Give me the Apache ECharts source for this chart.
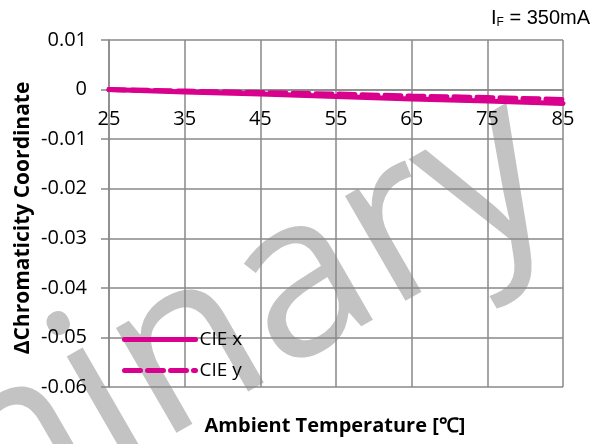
<!DOCTYPE html>
<html>
<head>
<meta charset="utf-8">
<script src="https://cdn.jsdelivr.net/npm/echarts@6/dist/echarts.min.js"></script>
<style>html,body{margin:0;padding:0;background:#fff}#c{width:596px;height:444px}</style>
</head>
<body>
<div id="c"></div>
<script>
const temps = [25, 35, 45, 55, 65, 75, 85];
const cieX = [0, -0.0005, -0.0009, -0.0014, -0.0019, -0.0023, -0.0028];
const cieY = [0, -0.0003, -0.0006, -0.0009, -0.0013, -0.0016, -0.0020];
const seriesNames = ['CIE x', 'CIE y'];
const xTitle = 'Ambient Temperature [℃]';
const yTitle = 'ΔChromaticity Coordinate';
const watermark = 'Preliminary';

const MAG = '#D9008D';
const GRID = '#888888';
const FONT = 'Open Sans';
const GRID_TOP = 40, GRID_BOTTOM = 57, H = 444;
const Y_MIN = -0.06, Y_MAX = 0.01;
const plotH = H - GRID_TOP - GRID_BOTTOM;
const zeroOffset = -plotH * (0 - Y_MIN) / (Y_MAX - Y_MIN);

const chart = echarts.init(document.getElementById('c'), null, {renderer: 'canvas'});
chart.setOption({
  animation: false,
  backgroundColor: '#fff',
  grid: {left: 109, right: 33, top: GRID_TOP, bottom: GRID_BOTTOM},
  graphic: [
    {type: 'text', z: -10, x: 478, y: 54, rotation: Math.PI / 6,
     style: {text: watermark, fill: '#c3c3c3', font: '226px "Open Sans"', textAlign: 'right', textVerticalAlign: 'top'}},
    {type: 'text', x: 335, y: 426,
     style: {text: xTitle, fill: '#000', font: 'bold 20px "Open Sans"', textAlign: 'center', textVerticalAlign: 'middle'}},
    {type: 'text', x: 23, y: 218, rotation: Math.PI / 2,
     style: {text: yTitle, fill: '#000', font: 'bold 21px "Open Sans"', textAlign: 'center', textVerticalAlign: 'middle'}},
    {type: 'text', x: 590, y: 18,
     style: {text: '{a|I}{s|F}{a| = 350mA}', textAlign: 'right', textVerticalAlign: 'middle',
       rich: {a: {fontFamily: 'Liberation Sans', fontSize: 20, fill: '#000', color: '#000'},
              s: {fontFamily: 'Liberation Sans', fontSize: 12, fill: '#000', color: '#000', padding: [9, 0, 0, 0]}}}}
  ],
  legend: {
    orient: 'vertical', left: 122, top: 330, padding: 0, itemWidth: 71, itemHeight: 8, itemGap: 12,
    itemStyle: {opacity: 0},
    lineStyle: {width: 5},
    textStyle: {fontFamily: FONT, fontSize: 19, color: '#000', padding: [0, 0, 0, -1]},
    data: seriesNames.map(n => ({name: n}))
  },
  xAxis: {
    type: 'value', min: 25, max: 85, interval: 10,
    position: 'bottom', offset: zeroOffset,
    axisLine: {onZero: false, lineStyle: {color: GRID, width: 1.5}},
    axisTick: {show: false},
    axisLabel: {fontFamily: FONT, fontSize: 20, color: '#000', margin: 20},
    splitLine: {show: true, lineStyle: {color: GRID, width: 1.5}}
  },
  yAxis: {
    type: 'value', min: Y_MIN, max: Y_MAX, interval: 0.01,
    axisLine: {show: true, lineStyle: {color: GRID, width: 1.5}},
    axisTick: {show: true, inside: false, length: 8, lineStyle: {color: GRID, width: 1.5}},
    axisLabel: {fontFamily: FONT, fontSize: 20, color: '#000', margin: 22,
      formatter: v => { const r = Math.round(v * 100) / 100; return r === 0 ? '0' : r.toFixed(2); }},
    splitLine: {show: true, lineStyle: {color: GRID, width: 1.5}}
  },
  series: [
    {name: seriesNames[1], type: 'line', symbol: 'none', z: 3,
     data: temps.map((t, i) => [t, cieY[i]]),
     lineStyle: {color: MAG, width: 5, type: [16, 7], cap: 'round'}, itemStyle: {color: MAG}},
    {name: seriesNames[0], type: 'line', symbol: 'none', z: 4,
     data: temps.map((t, i) => [t, cieX[i]]),
     lineStyle: {color: MAG, width: 5, type: 'solid', cap: 'round'}, itemStyle: {color: MAG}}
  ]
});
</script>
</body>
</html>
